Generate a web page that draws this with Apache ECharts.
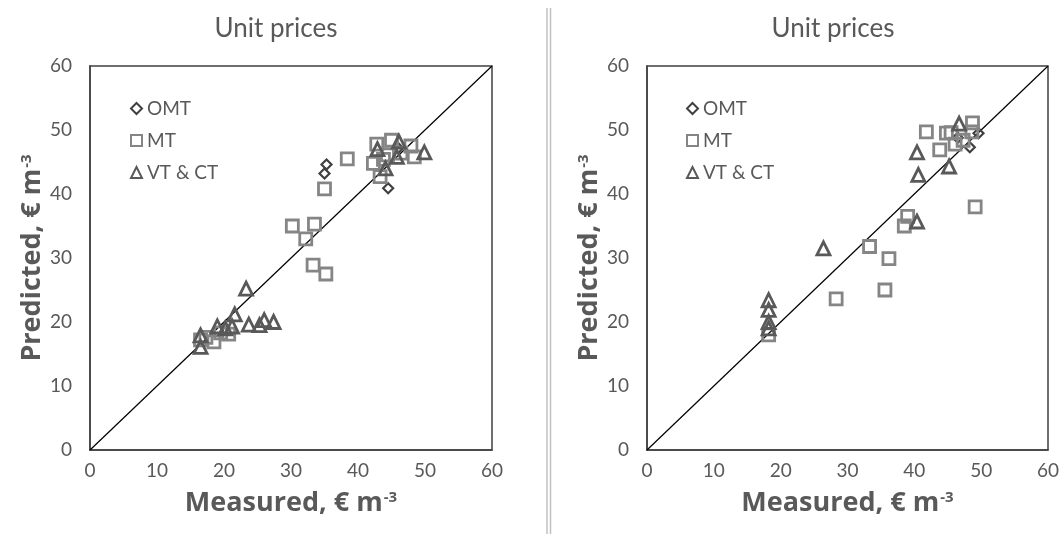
<!DOCTYPE html>
<html>
<head>
<meta charset="utf-8">
<script src="https://cdn.jsdelivr.net/npm/echarts@6/dist/echarts.min.js"></script>
<style>html,body{margin:0;padding:0;background:#fff}#c{width:1064px;height:534px}</style>
</head>
<body>
<div id="c"></div>
<script>
const chartTitle = "Unit prices";
const xAxisName = "Measured, € m";
const yAxisName = "Predicted, € m";
const seriesNames = ["OMT", "MT", "VT & CT"];
const axisMin = 0, axisMax = 60, axisStep = 10;
const diagonal = [[0, 0], [60, 60]];

const leftOMT = [[35.3,44.6],[35.0,43.2],[44.5,40.9],[46.0,47.2]];
const leftMT = [[38.4,45.5],[35.0,40.8],[30.2,35.0],[33.5,35.3],[32.2,33.0],[33.3,28.9],[35.2,27.5],
  [42.8,47.8],[45.0,48.4],[42.3,44.8],[43.3,42.7],[47.9,47.5],[48.4,45.8],[46.4,46.4],[44.4,46.1],[43.8,45.4],
  [20.7,18.1],[18.5,16.9],[19.5,18.3],[17.3,17.6],[16.5,17.2]];
const leftVT = [[42.9,47.0],[46.1,48.2],[49.9,46.5],[44.1,44.0],[45.8,45.8],[23.3,25.2],[21.6,21.2],
  [23.7,19.6],[25.3,19.5],[26.0,20.3],[27.4,20.0],[21.2,19.3],[20.2,19.0],[19.0,19.3],[16.5,17.9],[16.5,16.1]];

const rightOMT = [[48.3,47.3],[49.6,49.5],[46.5,48.8]];
const rightMT = [[41.8,49.7],[43.8,46.9],[44.8,49.5],[46.1,47.8],[48.7,51.1],[48.6,49.7],[45.5,49.6],[47.3,48.4],
  [49.1,38.0],[39.0,36.5],[38.5,35.0],[33.3,31.8],[36.2,29.9],[35.6,25.0],[28.3,23.6],[18.2,18.0]];
const rightVT = [[46.7,51.0],[40.4,46.5],[40.6,43.0],[45.2,44.3],[40.4,35.7],[26.4,31.5],
  [18.2,23.4],[18.2,21.9],[18.2,20.0],[18.2,19.0]];

const txt = '#595959';
const font = 'Lato, "Open Sans", sans-serif';
const boldFont = '"Open Sans", Lato, sans-serif';
const styles = [
  {symbol: 'diamond', size: 10, color: '#404040', bw: 2.2},
  {symbol: 'rect', size: 12, color: '#858585', bw: 2.8},
  {symbol: 'triangle', size: 13, color: '#595959', bw: 2.8}
];

function axisName(base) {
  return '{a|' + base + '}{s|-3}';
}
const nameRich = {
  a: {fontSize: 27, fontWeight: 'bold', color: txt, fontFamily: boldFont},
  s: {fontSize: 15, fontWeight: 'bold', color: txt, fontFamily: boldFont, verticalAlign: 'top', padding: [0, 0, 12, 1]}
};

function xAxis(gi) {
  return {
    type: 'value', gridIndex: gi, min: axisMin, max: axisMax, interval: axisStep,
    name: axisName(xAxisName), nameLocation: 'middle', nameGap: 40,
    nameTextStyle: {rich: nameRich},
    axisLine: {show: true, lineStyle: {color: '#404040', width: 1.5}},
    axisTick: {show: false}, splitLine: {show: false},
    axisLabel: {color: txt, fontSize: 19, fontFamily: font, margin: 11}
  };
}
function yAxis(gi) {
  return {
    type: 'value', gridIndex: gi, min: axisMin, max: axisMax, interval: axisStep,
    name: axisName(yAxisName), nameLocation: 'middle', nameGap: 44, nameRotate: 90,
    nameTextStyle: {rich: nameRich},
    axisLine: {show: true, lineStyle: {color: '#404040', width: 1.5}},
    axisTick: {show: false}, splitLine: {show: false},
    axisLabel: {color: txt, fontSize: 19, fontFamily: font, margin: 18}
  };
}
function scatter(gi, idx, data) {
  const s = styles[idx];
  return {
    type: 'scatter', name: seriesNames[idx], xAxisIndex: gi, yAxisIndex: gi,
    data: data, symbol: s.symbol, symbolSize: s.size,
    itemStyle: {color: 'rgba(0,0,0,0)', borderColor: s.color, borderWidth: s.bw, opacity: 1},
    emphasis: {disabled: true}, z: 3
  };
}
function diag(gi) {
  return {
    type: 'line', xAxisIndex: gi, yAxisIndex: gi, data: diagonal, symbol: 'none',
    lineStyle: {color: '#000', width: 1.2}, silent: true, z: 2
  };
}
function legend(left) {
  return {
    data: seriesNames, orient: 'vertical', left: left, top: 94, itemGap: 13,
    itemWidth: 11, itemHeight: 11,
    textStyle: {color: txt, fontSize: 19, fontFamily: font}, selectedMode: false
  };
}

const chart = echarts.init(document.getElementById('c'), null, {renderer: 'canvas'});
chart.setOption({
  backgroundColor: '#fff',
  animation: false,
  title: [
    {text: chartTitle, left: 271, top: 11, textAlign: 'center', textStyle: {color: txt, fontSize: 26, fontWeight: 'normal', fontFamily: font}},
    {text: chartTitle, left: 828, top: 11, textAlign: 'center', textStyle: {color: txt, fontSize: 26, fontWeight: 'normal', fontFamily: font}}
  ],
  legend: [legend(125), legend(681)],
  grid: [
    {left: 90, right: 572, top: 66, bottom: 84, show: true, borderColor: '#404040', borderWidth: 1.5, backgroundColor: 'transparent'},
    {left: 647, right: 16, top: 66, bottom: 84, show: true, borderColor: '#404040', borderWidth: 1.5, backgroundColor: 'transparent'}
  ],
  xAxis: [xAxis(0), xAxis(1)],
  yAxis: [yAxis(0), yAxis(1)],
  graphic: [
    {type: 'line', shape: {x1: 547, y1: 8, x2: 547, y2: 534}, style: {stroke: '#c0c0c0', lineWidth: 1.5}},
    {type: 'line', shape: {x1: 550.5, y1: 8, x2: 550.5, y2: 534}, style: {stroke: '#c0c0c0', lineWidth: 1.5}}
  ],
  series: [
    diag(0), scatter(0, 0, leftOMT), scatter(0, 1, leftMT), scatter(0, 2, leftVT),
    diag(1), scatter(1, 0, rightOMT), scatter(1, 1, rightMT), scatter(1, 2, rightVT)
  ]
});
</script>
</body>
</html>
